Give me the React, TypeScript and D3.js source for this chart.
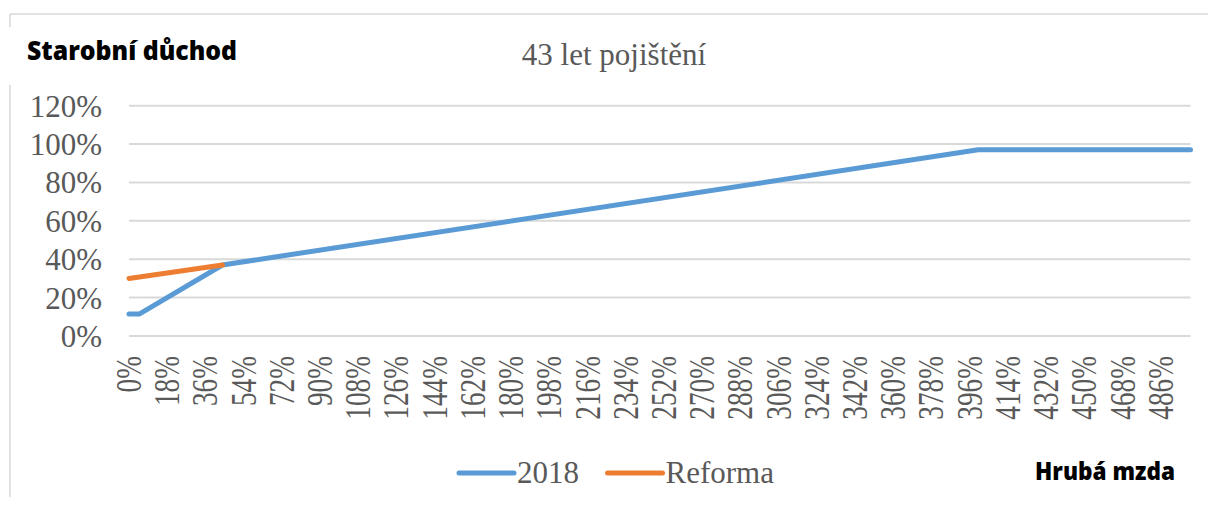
import React from 'react';
import { scaleLinear, line, range } from 'd3';

// salary as % of average wage -> pension as % (break points)
const wage2018 = [0, 5, 44, 400, 500];
const pension2018 = [11.5, 11.5, 37, 97, 97];
const wageReforma = [0, 44];
const pensionReforma = [30, 37];

const yTicks = [0, 20, 40, 60, 80, 100, 120];
const xTicks = range(0, 487, 18);

const seriesNames = ['2018', 'Reforma'];
const colors = ['#5B9BD5', '#ED7D31'];

const W = 1208;
const H = 506;
const serif = '"Liberation Serif", "Times New Roman", serif';
const sans = '"Open Sans", "Noto Sans", sans-serif';
const textGrey = '#595959';

const App = () => {
  const xScale = scaleLinear().domain([0, 500]).range([129, 1190.5]);
  const yScale = scaleLinear().domain([0, 120]).range([336, 105.7]);

  const path = line<number>()
    .x(d => xScale(d[0]))
    .y(d => yScale(d[1]));

  const pts2018 = wage2018.map((w, i) => [w, pension2018[i]]);
  const ptsRef = wageReforma.map((w, i) => [w, pensionReforma[i]]);

  return (
    <svg width={W} height={H} style={{ position: 'fixed', left: 0, top: 0, background: '#fff' }}>
      {/* chart frame, partly hidden behind the title box */}
      <line x1={10} x2={W} y1={14} y2={14} stroke="#D9D9D9" strokeWidth={1.5} />
      <line x1={10} x2={10} y1={14} y2={27} stroke="#D9D9D9" strokeWidth={1.5} />
      <line x1={10} x2={10} y1={85} y2={497} stroke="#D9D9D9" strokeWidth={1.5} />

      <text x={27} y={60} fontFamily={sans} fontWeight={800} fontSize={27} textLength={210} lengthAdjust="spacingAndGlyphs" fill="#000">Starobní důchod</text>
      <text x={614} y={65} fontFamily={serif} fontSize={31} fill={textGrey} textAnchor="middle">43 let pojištění</text>

      {yTicks.map(t => (
        <g key={t} transform={`translate(0, ${yScale(t)})`}>
          <line x1={xScale(0)} x2={xScale(500)} stroke="#D9D9D9" strokeWidth={2} />
          <text x={102} y={11} fontFamily={serif} fontSize={31} fill={textGrey} textAnchor="end">{t}%</text>
        </g>
      ))}

      {xTicks.map(t => (
        <text key={t} transform={`translate(${xScale(t) + 12}, 356) rotate(-90) scale(0.78, 1)`}
          fontFamily={serif} fontSize={35} fill={textGrey} textAnchor="end">{t}%</text>
      ))}

      <path d={path(pts2018 as any) || ''} fill="none" stroke={colors[0]} strokeWidth={5} strokeLinecap="round" strokeLinejoin="round" />
      <path d={path(ptsRef as any) || ''} fill="none" stroke={colors[1]} strokeWidth={5} strokeLinecap="round" strokeLinejoin="round" />

      {/* legend */}
      {seriesNames.map((name, i) => {
        const x0 = i === 0 ? 459 : 607.5;
        return (
          <g key={name} transform={`translate(${x0}, 473)`}>
            <line x1={0} x2={55} stroke={colors[i]} strokeWidth={5} strokeLinecap="round" />
            <text x={58} y={10} fontFamily={serif} fontSize={31} fill={textGrey}>{name}</text>
          </g>
        );
      })}

      <text x={1035} y={480} fontFamily={sans} fontWeight={800} fontSize={25} textLength={140} lengthAdjust="spacingAndGlyphs" fill="#000">Hrubá mzda</text>
    </svg>
  );
};

export default App;
